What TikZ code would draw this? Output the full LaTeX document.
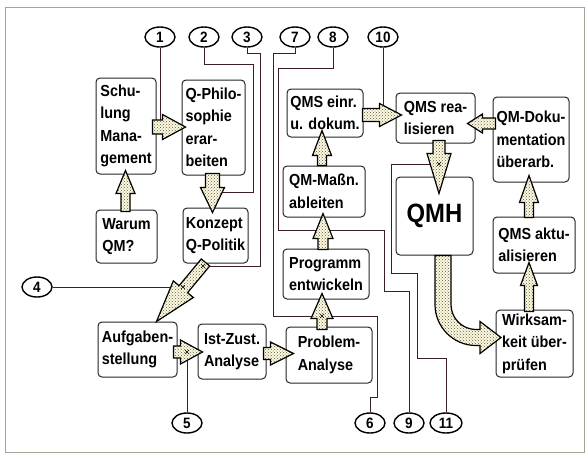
\documentclass[tikz,border=0pt]{standalone}
\usepackage{fontspec}
\newfontfamily\boxfont{Liberation Sans}[FakeStretch=0.9]
\usetikzlibrary{calc,shapes.geometric,patterns}
\definecolor{linecol}{RGB}{60,30,38}
\definecolor{cream}{RGB}{255,250,220}
\definecolor{framecol}{RGB}{165,165,150}
\newcommand{\barrow}[6]{%
  \coordinate (#1-a) at #2;
  \coordinate (#1-b) at #3;
  \coordinate (#1-p) at ($(#1-b)!#6!(#1-a)$);
  \path[arw] ($(#1-a)!#4!90:(#1-b)$) -- ($(#1-p)!#4!90:(#1-b)$) -- ($(#1-p)!#5!90:(#1-b)$) -- (#1-b) -- ($(#1-p)!#5!-90:(#1-b)$) -- ($(#1-p)!#4!-90:(#1-b)$) -- ($(#1-a)!#4!-90:(#1-b)$) -- cycle;
}
\begin{document}
\begin{tikzpicture}[x=1pt,y=-1pt,
  box/.style={draw=black!85, line width=1pt, rounded corners=4pt, fill=white, align=left, inner sep=2pt,
    font=\boxfont\bfseries\fontsize{16}{22.5}\selectfont},
  num/.style={draw=black, ellipse, line width=1.4pt, minimum width=30pt, minimum height=20pt, inner sep=0pt, fill=white,
    font=\boxfont\bfseries\fontsize{15}{15}\selectfont},
  ln/.style={draw=linecol, line width=0.8pt},
  arw/.style={draw=black, line width=1.2pt, line join=miter, preaction={fill=cream}, pattern=crosshatch dots, pattern color=black!65},
  mk/.style={draw=black, line width=0.6pt}]
\useasboundingbox (0,0) rectangle (587,456);
\draw[framecol, line width=1pt] (5,7) rectangle (584,452);

% boxes
\node[box, minimum width=60pt, minimum height=96pt] (A) at (126,126) {Schu-\\lung\\Mana-\\gement};
\node[box, minimum width=63pt, minimum height=95pt] (B) at (213.5,127.5) {Q-Philo-\\sophie\\erar-\\beiten};
\node[box, minimum width=61pt, minimum height=53pt] (C) at (126.5,236.5) {Warum\\QM?};
\node[box, minimum width=65pt, minimum height=55pt] (D) at (215.5,235.5) {Konzept\\Q-Politik};
\node[box, minimum width=79pt, minimum height=55pt] (E) at (137.5,349.5) {Aufgaben-\\stellung};
\node[box, minimum width=68pt, minimum height=55pt] (F) at (232,351.5) {Ist-Zust.\\Analyse};
\node[box, minimum width=86pt, minimum height=56pt] (G) at (329,355) {Problem-\\Analyse};
\node[box, minimum width=86pt, minimum height=50pt] (H) at (326,274) {Programm\\entwickeln};
\node[box, minimum width=82pt, minimum height=51pt] (I) at (324,191.5) {QM-Maßn.\\ableiten};
\node[box, minimum width=76pt, minimum height=48pt] (J) at (325,113) {QMS einr.\\u. dokum.};
\node[box, minimum width=79pt, minimum height=50pt] (K) at (435.5,118) {QMS rea-\\lisieren};
\node[box, minimum width=76pt, minimum height=85pt] (L) at (531,139.5) {QM-Doku-\\mentation\\überarb.};
\node[box, minimum width=77pt, minimum height=78pt, font=\boxfont\bfseries\fontsize{26.5}{28}\selectfont] (M) at (434.5,216) {QMH};
\node[box, minimum width=82pt, minimum height=56pt] (N) at (534,245) {QMS aktu-\\alisieren};
\node[box, minimum width=77pt, minimum height=67pt] (O) at (534.5,343.5) {Wirksam-\\keit über-\\prüfen};

% numbered ellipses
\node[num] (c1) at (160,37) {1};
\node[num] (c2) at (204,37) {2};
\node[num] (c3) at (247,37) {3};
\node[num] (c7) at (295,37) {7};
\node[num] (c8) at (333,37) {8};
\node[num] (c10) at (383,37) {10};
\node[num] (c4) at (37,287) {4};
\node[num] (c5) at (187,423) {5};
\node[num] (c6) at (370,423) {6};
\node[num] (c9) at (409,423) {9};
\node[num, minimum width=32pt] (c11) at (446,423) {11};

% connecting lines
\draw[ln] (c1.south) -- (160,124);
\draw[ln] (c2.south) -- (204,64) -- (253,64) -- (253,192) -- (212,192);
\draw[ln] (c3.south) -- (247,53) -- (260,53) -- (260,266) -- (203,266);
\draw[ln] (c7.south) -- (295,53) -- (273,53) -- (273,316) -- (322,316);
\draw[ln] (c8.south) -- (333,68) -- (278,68) -- (278,230) -- (323,230);
\draw[ln] (c10.south) -- (383,113);
\draw[ln] (c4.east) -- (183,287);
\draw[ln] (c5.north) -- (187,352);
\draw[ln] (c6.north) -- (370,397) -- (377,397) -- (377,316) -- (322,316);
\draw[ln] (c9.north) -- (409,291) -- (384,291) -- (384,230) -- (323,230);
\draw[ln] (c11.north) -- (446,358) -- (417,358) -- (417,273) -- (391,273) -- (391,164) -- (439,164);

% block arrows
\barrow{a1}{($(A.east)+(-4,1)$)}{($(A.east -| B.west)+(4,1)$)}{7pt}{12.5pt}{23pt}
\barrow{a2}{($(C.north)+(-1,2)$)}{($(C.north |- A.south)+(-1,-4)$)}{4.5pt}{9.5pt}{23pt}
\barrow{a3}{($(B.south)+(-1,-2)$)}{($(B.south |- D.north)+(-1,5)$)}{7pt}{12pt}{25pt}
\barrow{a4}{($(D.south)+(-10,-1)$)}{($(E.north east)+(-21,0)$)}{5.5pt}{13pt}{42pt}
\barrow{a5}{($(E.east)+(-4,2.5)$)}{($(E.east -| F.west)+(5,2.5)$)}{6pt}{12pt}{22pt}
\barrow{a6}{($(F.east)+(-3,2)$)}{($(F.east -| G.west)+(8,2)$)}{6pt}{11.5pt}{23pt}
\barrow{a7}{($(G.north)+(-7,3)$)}{($(G.north |- H.south)+(-7,-6)$)}{5pt}{11pt}{25pt}
\barrow{a8}{($(H.north)+(-3,1)$)}{($(H.north |- I.south)+(-3,-4)$)}{5pt}{10pt}{25pt}
\barrow{a9}{($(I.north)+(-2,0)$)}{($(I.north |- J.south)+(-2,-7)$)}{4.5pt}{9.5pt}{25pt}
\barrow{a10}{($(J.east)+(-1,2)$)}{($(J.east -| K.west)+(6,2)$)}{6.5pt}{11.5pt}{22pt}
\barrow{a11}{($(L.west)+(3,-16)$)}{($(L.west -| K.east)+(-8,-16)$)}{5.5pt}{9.5pt}{15pt}
\barrow{a12}{($(K.south)+(3.5,-3)$)}{($(K.south |- M.north)+(3.5,17)$)}{6pt}{12pt}{40pt}
\barrow{a14}{($(O.north)+(-5.5,2)$)}{($(O.north |- N.south)+(-5.5,-11)$)}{4.5pt}{8.5pt}{23pt}
\barrow{a15}{($(N.north)+(-5,1)$)}{($(N.north |- L.south)+(-5,-7)$)}{4.5pt}{9.5pt}{27pt}
% curved arrow QMH -> Wirksamkeit
\coordinate (s13) at ($(M.south)+(8.5,0)$);
\begin{scope}[shift={(s13)}]
\path[arw] (-8,0) -- (-8,49) .. controls (-8,71.6) and (10.4,90) .. (33,90) -- (37,90) -- (37,98) -- (58,82)
  -- (37,66) -- (37,74) -- (33,74) .. controls (19.2,74) and (8,62.8) .. (8,49) -- (8,0) -- cycle;
\end{scope}

% small marks where lines meet arrows
\foreach \p in {(203,266),(183,287),(187,352),(322,316),(439,164)}
  \draw[mk] \p +(-2,-2) -- +(2,2) +(-2,2) -- +(2,-2);
\end{tikzpicture}
\end{document}
